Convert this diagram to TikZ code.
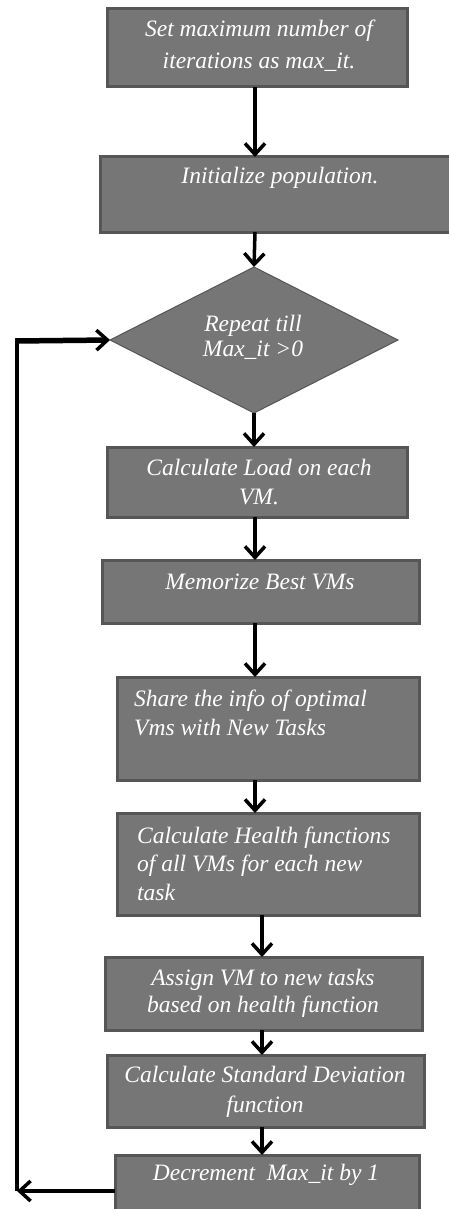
\documentclass[tikz,border=0pt]{standalone}
\usepackage{fontspec}
\setmainfont{Liberation Serif}
\usetikzlibrary{arrows.meta,shapes.geometric,calc}
\definecolor{boxfill}{RGB}{118,118,118}
\definecolor{boxline}{RGB}{86,86,86}
\begin{document}
\begin{tikzpicture}[x=1pt,y=-1pt,
  procbox/.style={draw=boxline,line width=3pt,fill=boxfill,rectangle,inner sep=0pt,outer sep=0pt},
  decbox/.style={draw=boxline,line width=1pt,fill=boxfill,diamond,inner sep=0pt,outer sep=0pt},
  lbl/.style={text=white,inner sep=0pt,font={\fontsize{23.5}{29}\selectfont\itshape}},
  arr/.style={draw=black,line width=3.5pt,-{Straight Barb[length=11pt,width=20pt,line width=3.5pt]}},
  loopline/.style={draw=black,line width=3.5pt}
]
\useasboundingbox (0,0) rectangle (449,1209);
% boxes
\node[procbox,minimum width=300pt,minimum height=78pt] (b1) at (257,48) {};
\node[procbox,minimum width=352pt,minimum height=75pt] (b2) at (276,194.5) {};
\node[decbox,minimum width=288pt,minimum height=146pt] (d3) at (254,340) {};
\node[procbox,minimum width=300pt,minimum height=70pt] (b4) at (257,482) {};
\node[procbox,minimum width=317pt,minimum height=63pt] (b5) at (260.5,591.5) {};
\node[procbox,minimum width=302pt,minimum height=103pt] (b6) at (268,728.5) {};
\node[procbox,minimum width=302pt,minimum height=102pt] (b7) at (268,864) {};
\node[procbox,minimum width=317pt,minimum height=73pt] (b8) at (263.5,993.5) {};
\node[procbox,minimum width=317pt,minimum height=72pt] (b9) at (265.5,1091) {};
\node[procbox,minimum width=304pt,minimum height=64pt] (b10) at (267,1187) {};
% labels
\node[lbl,align=center,font={\fontsize{23.5}{32}\selectfont\itshape}] (t1) at (259,46) {Set maximum number of\\iterations as max\_it.};
\node[lbl] (t2) at (280,178) {Initialize population.};
\node[lbl,align=center,font={\fontsize{23.5}{25}\selectfont\itshape}] (t3) at (253,337.5) {Repeat till\\Max\_it >0};
\node[lbl,align=center] (t4) at (259,482.5) {Calculate Load on each\\VM.};
\node[lbl] (t5) at (260,582) {Memorize Best VMs};
\node[lbl,align=left,anchor=west] (t6) at (134,712.5) {Share the info of optimal\\Vms with New Tasks};
\node[lbl,align=left,anchor=west,font={\fontsize{23.5}{28.5}\selectfont\itshape}] (t7) at (137,863.5) {Calculate Health functions\\of all VMs for each new\\task};
\node[lbl,align=center,font={\fontsize{23.5}{27}\selectfont\itshape}] (t8) at (263,993.5) {Assign VM to new tasks\\based on health function};
\node[lbl,align=center,font={\fontsize{23.5}{30}\selectfont\itshape}] (t9) at (265,1092) {Calculate Standard Deviation\\function};
\node[lbl] (t10) at (266,1175) {Decrement\ \ Max\_it by 1};
% connectors
\coordinate (c255) at (255,0);
\coordinate (c262) at (262,0);
\draw[arr] (b1.south -| c255) -- (b2.north -| c255);
\draw[arr] (b2.south -| c255) -- (d3.north);
\draw[arr] (d3.south) -- (b4.north -| d3.south);
\draw[arr] (b4.south -| c255) -- (b5.north -| c255);
\draw[arr] (b5.south -| c255) -- (b6.north -| c255);
\draw[arr] (b6.south -| c255) -- (b7.north -| c255);
\draw[arr] (b7.south -| c262) -- (b8.north -| c262);
\draw[arr] (b8.south -| c262) -- (b9.north -| c262);
\draw[arr] (b9.south -| c262) -- (b10.north -| c262);
% loop back
\coordinate (lb) at (17,1191);
\coordinate (lt) at (17,341);
\draw[arr] (b10.west |- lb) -- (lb);
\draw[loopline] (lb) -- ([yshift=2.5pt]lt);
\draw[arr,line width=5.5pt] ([xshift=-1.75pt]lt) -- (d3.west);
\end{tikzpicture}
\end{document}
